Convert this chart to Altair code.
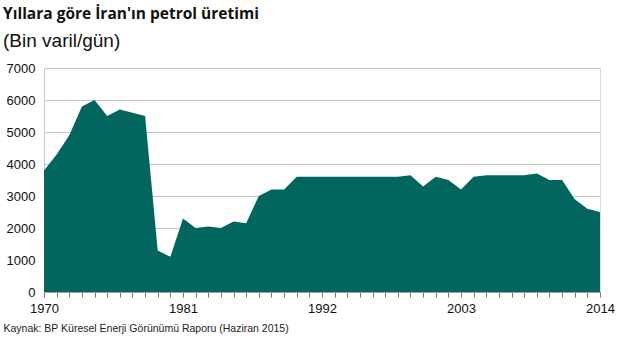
import altair as alt
import pandas as pd

years = list(range(1970, 2015))
production = [3800, 4300, 4900, 5800, 6000, 5500, 5700, 5600, 5500, 1300,
              1100, 2300, 2000, 2050, 2000, 2200, 2150, 3000, 3200, 3200,
              3600, 3600, 3600, 3600, 3600, 3600, 3600, 3600, 3600, 3650,
              3300, 3600, 3500, 3200, 3600, 3650, 3650, 3650, 3650, 3700,
              3500, 3500, 2900, 2600, 2500]

title_text = "Yıllara göre İran'ın petrol üretimi"
subtitle_text = "(Bin varil/gün)"
source_text = "Kaynak: BP Küresel Enerji Görünümü Raporu (Haziran 2015)"
y_ticks = [0, 1000, 2000, 3000, 4000, 5000, 6000, 7000]

df = pd.DataFrame({"year": years, "value": production})

chart = alt.Chart(df).mark_area(color="#02665F", opacity=1).encode(
    x=alt.X("year:Q",
            scale=alt.Scale(domain=[1970, 2014], nice=False, zero=False),
            axis=alt.Axis(values=years, format="d",
                          labelExpr="datum.value % 11 == 1 ? datum.label : ''",
                          labelOverlap=False, labelFlush=False, grid=False,
                          ticks=True, tickSize=5, tickColor="#777777", tickWidth=1,
                          tickOpacity=1,
                          domainColor="#a0a0a0",
                          labelFont="Liberation Sans", labelFontSize=13,
                          labelColor="#111111", labelPadding=5,
                          title=source_text, titleFont="Liberation Sans",
                          titleFontSize=10.5, titleFontWeight="normal",
                          titleColor="#222222", titleAnchor="start",
                          titleAlign="left", titleX=-41, titleY=31,
                          titleBaseline="top")),
    y=alt.Y("value:Q",
            scale=alt.Scale(domain=[0, 7000], nice=False),
            axis=alt.Axis(values=y_ticks, format="d", title=None,
                          grid=True, gridColor="#c4c4c4", gridWidth=1,
                          ticks=False, domainColor="#c8c8c8",
                          labelFont="Liberation Sans", labelFontSize=13,
                          labelColor="#111111", labelPadding=9)),
).properties(
    width=556, height=224,
    autosize=alt.AutoSizeParams(type="none"),
    padding={"left": 44, "top": 68, "right": 24, "bottom": 59},
    title=alt.TitleParams(text=title_text, subtitle=subtitle_text,
                          anchor="start", frame="group", dx=-41, offset=11,
                          font="Open Sans", fontSize=15.5, fontWeight="bold",
                          color="#111111",
                          subtitleFont="Liberation Sans", subtitleFontSize=19,
                          subtitleColor="#111111", subtitlePadding=10),
).configure_view(stroke=None).configure(background="white")

chart.save("out.html", embed_options={"renderer": "svg", "actions": False})
